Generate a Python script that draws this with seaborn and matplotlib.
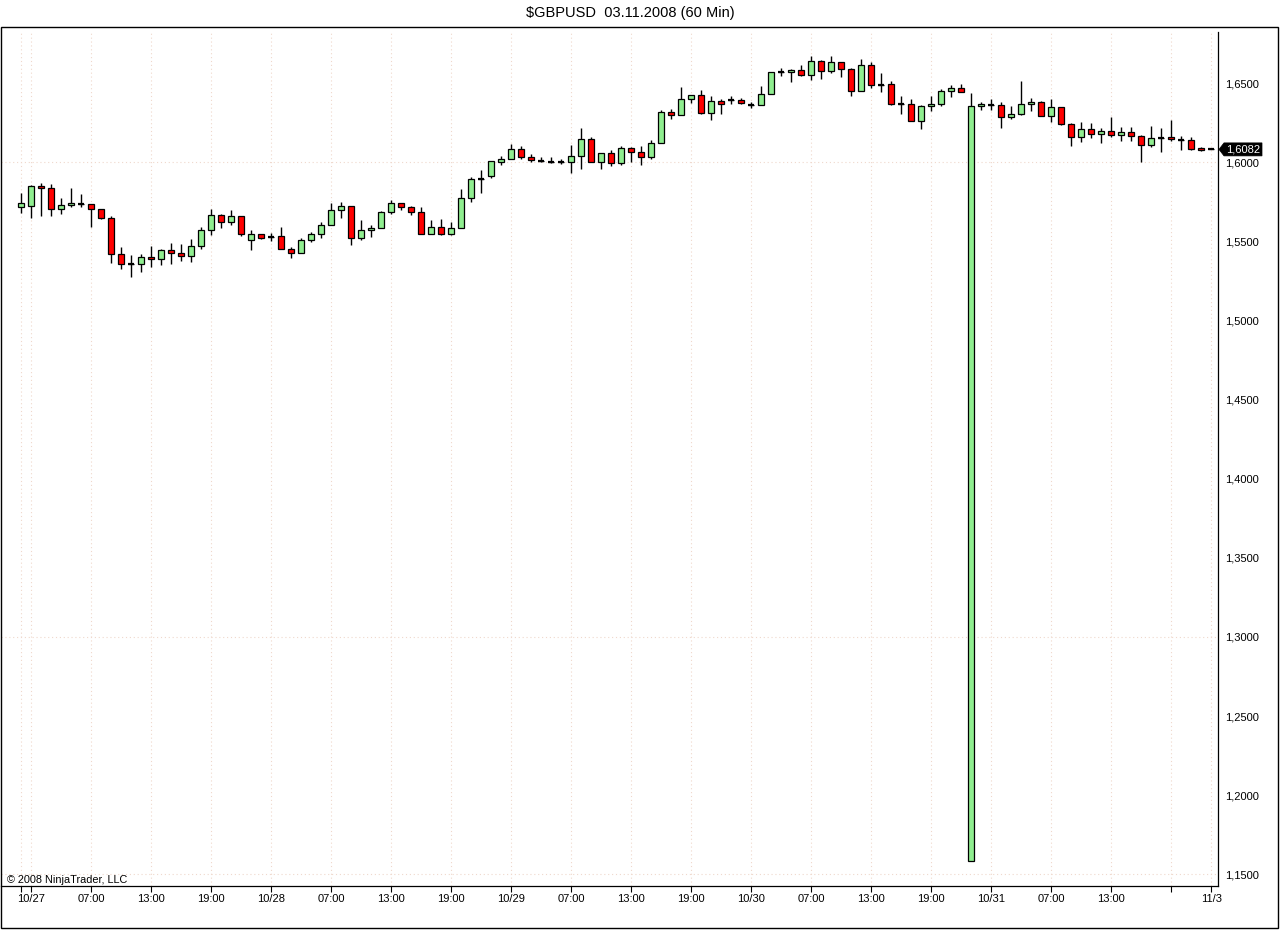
import matplotlib
matplotlib.use("Agg")
import matplotlib.pyplot as plt
import seaborn as sns
import numpy as np
from matplotlib.patches import Rectangle, Polygon
from matplotlib.transforms import blended_transform_factory

# ---------------- data (GBPUSD hourly) ----------------
opens = [1.5716, 1.5722, 1.5851, 1.5836, 1.5703, 1.5729, 1.5737, 1.5735, 1.5703, 1.5646,
         1.5419, 1.5356, 1.5356, 1.5400, 1.5387, 1.5444, 1.5425, 1.5406, 1.5469, 1.5571,
         1.5665, 1.5626, 1.5659, 1.5508, 1.5546, 1.5531, 1.5533, 1.5451, 1.5425, 1.5508,
         1.5546, 1.5603, 1.5697, 1.5723, 1.5520, 1.5571, 1.5583, 1.5685, 1.5742, 1.5716,
         1.5689, 1.5545, 1.5589, 1.5549, 1.5583, 1.5773, 1.5893, 1.5916, 1.6005, 1.6019,
         1.6082, 1.6032, 1.6011, 1.6004, 1.6004, 1.6004, 1.6038, 1.6146, 1.6000, 1.6057,
         1.5994, 1.6088, 1.6063, 1.6036, 1.6120, 1.6316, 1.6297, 1.6398, 1.6423, 1.6310,
         1.6386, 1.6392, 1.6392, 1.6360, 1.6360, 1.6430, 1.6569, 1.6569, 1.6581, 1.6554,
         1.6641, 1.6576, 1.6632, 1.6588, 1.6449, 1.6613, 1.6491, 1.6493, 1.6371, 1.6367,
         1.6259, 1.6354, 1.6367, 1.6449, 1.6468, 1.1583, 1.6354, 1.6365, 1.6361, 1.6285,
         1.6304, 1.6369, 1.6382, 1.6291, 1.6348, 1.6245, 1.6158, 1.6213, 1.6177, 1.6196,
         1.6171, 1.6190, 1.6165, 1.6108, 1.6156, 1.6158, 1.6144, 1.6139, 1.6089, 1.6082]
highs = [1.5805, 1.5857, 1.5868, 1.5861, 1.5773, 1.5836, 1.5800, 1.5735, 1.5708, 1.5661,
         1.5463, 1.5413, 1.5419, 1.5469, 1.5451, 1.5491, 1.5484, 1.5516, 1.5592, 1.5703,
         1.5674, 1.5699, 1.5659, 1.5573, 1.5546, 1.5556, 1.5590, 1.5465, 1.5522, 1.5560,
         1.5624, 1.5744, 1.5748, 1.5723, 1.5634, 1.5602, 1.5691, 1.5760, 1.5742, 1.5727,
         1.5716, 1.5636, 1.5642, 1.5621, 1.5832, 1.5910, 1.5952, 1.6007, 1.6038, 1.6116,
         1.6103, 1.6053, 1.6034, 1.6032, 1.6023, 1.6110, 1.6215, 1.6158, 1.6057, 1.6076,
         1.6101, 1.6095, 1.6101, 1.6141, 1.6329, 1.6335, 1.6476, 1.6423, 1.6455, 1.6417,
         1.6398, 1.6417, 1.6404, 1.6379, 1.6482, 1.6569, 1.6594, 1.6588, 1.6613, 1.6672,
         1.6647, 1.6672, 1.6632, 1.6595, 1.6654, 1.6632, 1.6565, 1.6512, 1.6420, 1.6401,
         1.6361, 1.6420, 1.6462, 1.6487, 1.6493, 1.6436, 1.6380, 1.6401, 1.6380, 1.6354,
         1.6514, 1.6407, 1.6388, 1.6401, 1.6348, 1.6251, 1.6253, 1.6251, 1.6215, 1.6287,
         1.6222, 1.6222, 1.6171, 1.6228, 1.6215, 1.6266, 1.6165, 1.6158, 1.6095, 1.6082]
lows = [1.5678, 1.5651, 1.5663, 1.5663, 1.5676, 1.5720, 1.5720, 1.5594, 1.5640, 1.5366,
        1.5326, 1.5274, 1.5309, 1.5341, 1.5354, 1.5360, 1.5379, 1.5373, 1.5455, 1.5541,
        1.5588, 1.5605, 1.5537, 1.5447, 1.5516, 1.5506, 1.5451, 1.5398, 1.5425, 1.5497,
        1.5524, 1.5603, 1.5647, 1.5476, 1.5508, 1.5527, 1.5583, 1.5672, 1.5697, 1.5666,
        1.5545, 1.5545, 1.5543, 1.5539, 1.5583, 1.5752, 1.5808, 1.5903, 1.5985, 1.6019,
        1.6019, 1.6000, 1.6000, 1.5994, 1.5988, 1.5935, 1.5960, 1.6000, 1.5960, 1.5975,
        1.5985, 1.6004, 1.5985, 1.6023, 1.6120, 1.6276, 1.6297, 1.6373, 1.6303, 1.6265,
        1.6308, 1.6367, 1.6367, 1.6345, 1.6360, 1.6430, 1.6546, 1.6510, 1.6548, 1.6522,
        1.6529, 1.6563, 1.6542, 1.6422, 1.6449, 1.6472, 1.6447, 1.6365, 1.6308, 1.6259,
        1.6209, 1.6327, 1.6354, 1.6411, 1.6443, 1.1583, 1.6333, 1.6333, 1.6219, 1.6272,
        1.6297, 1.6323, 1.6291, 1.6253, 1.6234, 1.6106, 1.6129, 1.6156, 1.6120, 1.6158,
        1.6133, 1.6135, 1.6000, 1.6095, 1.6064, 1.6133, 1.6080, 1.6080, 1.6070, 1.6082]
closes = [1.5742, 1.5851, 1.5836, 1.5703, 1.5729, 1.5743, 1.5737, 1.5703, 1.5646, 1.5419,
          1.5356, 1.5356, 1.5400, 1.5387, 1.5444, 1.5425, 1.5406, 1.5469, 1.5571, 1.5665,
          1.5626, 1.5659, 1.5546, 1.5546, 1.5524, 1.5531, 1.5451, 1.5425, 1.5508, 1.5546,
          1.5605, 1.5697, 1.5723, 1.5520, 1.5571, 1.5583, 1.5685, 1.5742, 1.5716, 1.5689,
          1.5545, 1.5589, 1.5549, 1.5583, 1.5773, 1.5893, 1.5893, 1.6007, 1.6019, 1.6082,
          1.6032, 1.6013, 1.6011, 1.6004, 1.6004, 1.6038, 1.6146, 1.6000, 1.6057, 1.5994,
          1.6088, 1.6063, 1.6036, 1.6120, 1.6316, 1.6297, 1.6398, 1.6423, 1.6310, 1.6386,
          1.6367, 1.6392, 1.6373, 1.6360, 1.6430, 1.6569, 1.6569, 1.6581, 1.6554, 1.6638,
          1.6576, 1.6632, 1.6588, 1.6449, 1.6613, 1.6487, 1.6491, 1.6371, 1.6371, 1.6259,
          1.6354, 1.6367, 1.6449, 1.6468, 1.6443, 1.6354, 1.6367, 1.6365, 1.6285, 1.6304,
          1.6369, 1.6382, 1.6291, 1.6348, 1.6241, 1.6158, 1.6213, 1.6177, 1.6196, 1.6171,
          1.6190, 1.6165, 1.6108, 1.6152, 1.6156, 1.6146, 1.6144, 1.6087, 1.6076, 1.6082]

x_tick_pos = [0, 1, 7, 13, 19, 25, 31, 37, 43, 49, 55, 61, 67, 73, 79, 85, 91, 97, 103, 109, 115, 119]
x_tick_labels = ["", "10/27", "07:00", "13:00", "19:00", "10/28", "07:00", "13:00", "19:00",
                 "10/29", "07:00", "13:00", "19:00", "10/30", "07:00", "13:00", "19:00",
                 "10/31", "07:00", "13:00", "", "11/3"]
y_ticks = [1.15, 1.20, 1.25, 1.30, 1.35, 1.40, 1.45, 1.50, 1.55, 1.60, 1.65]
h_grid = [1.15, 1.30, 1.60]

title = "\\$GBPUSD  03.11.2008 (60 Min)"
copyright_txt = "\u00a9 2008 NinjaTrader, LLC"

# ---------------- styling ----------------
sns.set_theme(style="white")
plt.rcParams['font.family'] = ['Liberation Sans', 'DejaVu Sans']

W, H = 1280, 930
fig = plt.figure(figsize=(W / 100, H / 100), dpi=100)
fig.patch.set_facecolor("white")

ax_left, ax_right, ax_top, ax_bot = 1, 1218.3, 32, 886
ax = fig.add_axes([ax_left / W, (H - ax_bot) / H, (ax_right - ax_left) / W, (ax_bot - ax_top) / H])
ax.set_facecolor("white")

o = np.array(opens); h = np.array(highs); l = np.array(lows); c = np.array(closes)
x = np.arange(len(o))

# grid
grid_col = "#efd8cc"
for xp in x_tick_pos:
    ax.axvline(xp, color=grid_col, lw=0.8, ls=(0, (1, 2.5)), zorder=0)
for yv in h_grid:
    ax.axhline(yv, color=grid_col, lw=0.8, ls=(0, (1, 2.5)), zorder=0)

# wicks
ax.vlines(x, l, h, colors="black", lw=1.0, zorder=2)

# bodies
cols = np.where(c > o, "#90EE90", np.where(c < o, "#FF0000", "black"))
bottoms = np.minimum(o, c)
heights = np.abs(c - o)
ax.bar(x, heights, bottom=bottoms, width=0.58, color=cols, edgecolor="black",
       linewidth=0.9, zorder=3)
# dojis: horizontal dash
doji = c == o
ax.hlines(c[doji], x[doji] - 0.3, x[doji] + 0.3, colors="black", lw=1.6, zorder=4)

# limits
ax.set_xlim(-2.03, 119.7)
ax.set_ylim(1.1426, 1.6824)

# ticks
ax.set_xticks(x_tick_pos)
ax.set_xticklabels(x_tick_labels)
ax.tick_params(axis="x", bottom=True, length=4.3, width=0.8, pad=1.5, labelsize=8,
               direction="out", colors="black")
ax.yaxis.tick_right()
ax.set_yticks(y_ticks)
ax.set_yticklabels([f"{v:.4f}".replace(".", ",") for v in y_ticks])
ax.tick_params(axis="y", left=False, right=True, labelleft=False, labelright=True,
               length=3.6, width=0.8, pad=1.5, labelsize=8, direction="out", colors="black")

sns.despine(ax=ax, left=True, top=True, right=False, bottom=False)
for s in ("right", "bottom"):
    ax.spines[s].set_color("black")
    ax.spines[s].set_linewidth(0.9)

# last price marker
trans = blended_transform_factory(ax.transAxes, ax.transData)
last = closes[-1]
axw = ax_right - ax_left
def fx(px):
    return (px - ax_left) / axw
hh = 6.5 / 1582
marker = Polygon([(fx(1219), last), (fx(1224), last + hh), (fx(1262), last + hh),
                  (fx(1262), last - hh), (fx(1224), last - hh)],
                 closed=True, facecolor="black", edgecolor="black", lw=0.5,
                 transform=trans, clip_on=False, zorder=5)
ax.add_patch(marker)
ax.text(fx(1243), last, f"{last:.4f}".replace(".", ","), transform=trans, color="white",
        ha="center", va="center", fontsize=8, clip_on=False, zorder=6)

# outer frame
fig.add_artist(Rectangle((1 / W, 2 / H), 1277 / W, 901 / H, transform=fig.transFigure,
                         fill=False, edgecolor="black", lw=1.0))

# title and copyright
fig.text(630 / W, 1 - 13 / H, title, ha="center", va="center", fontsize=10.5, color="black")
fig.text(7 / W, 1 - 880 / H, copyright_txt, ha="left", va="center", fontsize=7.8, color="black")

fig.savefig("out.png", dpi=100, facecolor="white")
